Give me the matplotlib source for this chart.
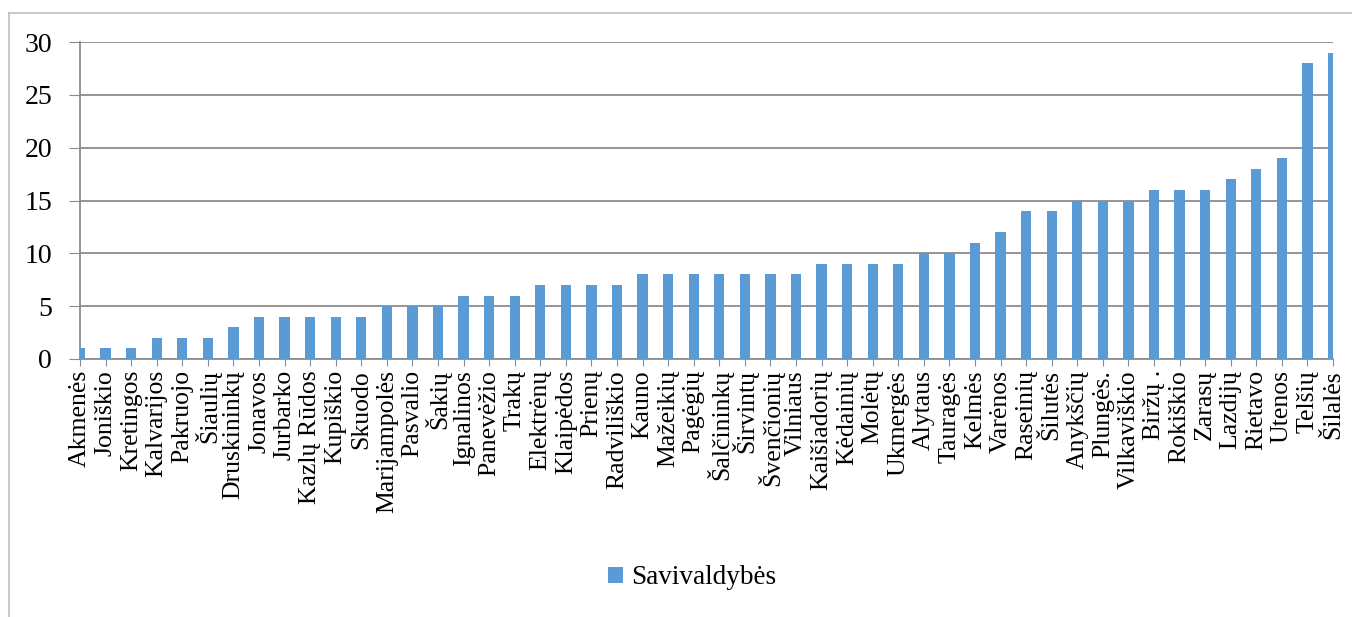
import numpy as np
import matplotlib
matplotlib.use('Agg')
import matplotlib.pyplot as plt
from matplotlib.lines import Line2D

# Savivaldybės ir reikšmės
savivaldybes = ['Akmenės', 'Joniškio', 'Kretingos', 'Kalvarijos', 'Pakruojo', 'Šiaulių',
                'Druskininkų', 'Jonavos', 'Jurbarko', 'Kazlų Rūdos', 'Kupiškio', 'Skuodo',
                'Marijampolės', 'Pasvalio', 'Šakių', 'Ignalinos', 'Panevėžio', 'Trakų',
                'Elektrėnų', 'Klaipėdos', 'Prienų', 'Radviliškio', 'Kauno', 'Mažeikių',
                'Pagėgių', 'Šalčininkų', 'Širvintų', 'Švenčionių', 'Vilniaus', 'Kaišiadorių',
                'Kėdainių', 'Molėtų', 'Ukmergės', 'Alytaus', 'Tauragės', 'Kelmės',
                'Varėnos', 'Raseinių', 'Šilutės', 'Anykščių', 'Plungės.', 'Vilkaviškio',
                'Biržų .', 'Rokiškio', 'Zarasų', 'Lazdijų', 'Rietavo', 'Utenos',
                'Telšių', 'Šilalės']
reiksmes = [1, 1, 1, 2, 2, 2, 3, 4, 4, 4, 4, 4, 5, 5, 5, 6, 6, 6, 7, 7, 7, 7,
            8, 8, 8, 8, 8, 8, 8, 9, 9, 9, 9, 10, 10, 11, 12, 14, 14, 15, 15, 15,
            16, 16, 16, 17, 18, 19, 28, 29]
y_ticks = [0, 5, 10, 15, 20, 25, 30]

plt.rcParams['font.family'] = ['Liberation Serif', 'DejaVu Serif']

fig = plt.figure(figsize=(13.52, 6.17), dpi=100)
ax = fig.add_axes([80/1352, 1 - 359/617, (1333 - 80)/1352, (359 - 42)/617])

x = np.arange(len(savivaldybes))
ax.bar(x, reiksmes, width=0.4, color='#5B9BD5', zorder=3, label='Savivaldybės')

ax.set_xlim(0, len(savivaldybes) - 1)
ax.set_ylim(0, 30)
ax.set_yticks(y_ticks)
ax.yaxis.grid(True, color='#8C8C8C', linewidth=1.3)
ax.set_axisbelow(True)

ax.set_xticks(x)
ax.set_xticklabels(savivaldybes, rotation=90, fontsize=18.5)
ax.tick_params(axis='x', length=5, color='#8C8C8C', pad=3)
ax.tick_params(axis='y', length=8, color='#8C8C8C', labelsize=20, pad=12)

for s in ['top', 'right']:
    ax.spines[s].set_visible(False)
ax.spines['left'].set_color('#8C8C8C')
ax.spines['bottom'].set_color('#8C8C8C')
ax.spines['left'].set_linewidth(1.3)
ax.spines['bottom'].set_linewidth(1.3)

leg = fig.legend(loc='center', bbox_to_anchor=(692/1352, 1 - 578/617), frameon=False,
                 fontsize=19.5, handlelength=0.55, handleheight=0.55, handletextpad=0.3)

# outer chart frame
fig.add_artist(Line2D([9/1352, 9/1352], [0, 1 - 13/617], transform=fig.transFigure,
                      color='#BFBFBF', linewidth=1.2))
fig.add_artist(Line2D([9/1352, 1], [1 - 13/617, 1 - 13/617], transform=fig.transFigure,
                      color='#BFBFBF', linewidth=1.2))

plt.savefig('out.png', dpi=100)
